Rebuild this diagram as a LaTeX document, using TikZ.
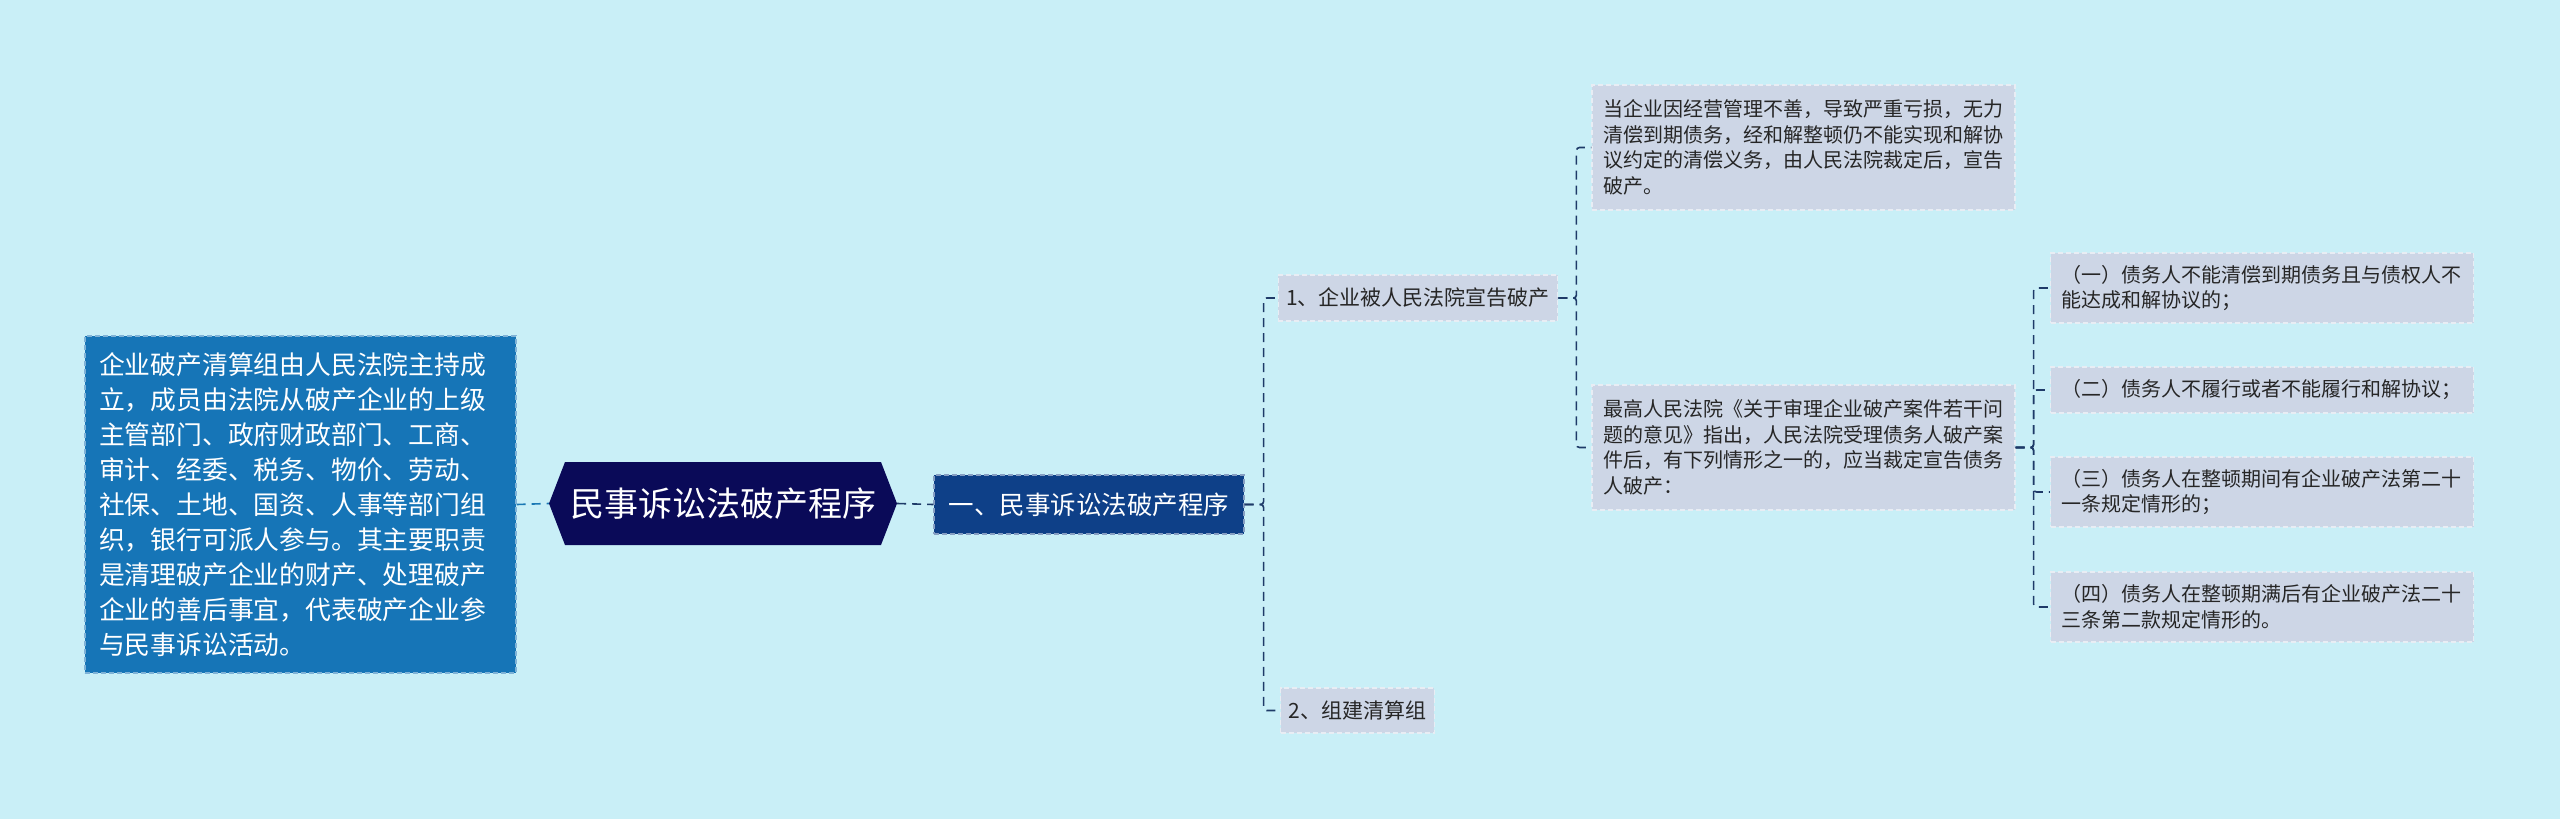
\documentclass[tikz,border=0pt]{standalone}
\usepackage{fontspec}
\setmainfont{Noto Sans CJK SC}

\definecolor{bgcol}{RGB}{201,239,247}
\definecolor{leafcol}{RGB}{205,214,230}
\definecolor{introcol}{RGB}{22,117,183}
\definecolor{rootcol}{RGB}{10,10,88}
\definecolor{proccol}{RGB}{14,64,136}
\definecolor{linecol}{RGB}{30,58,104}
\definecolor{bluelink}{RGB}{26,120,180}

\tikzset{
    box/.style={fill=leafcol, draw=leafcol!45!white, dash pattern=on 5pt off 3pt, line width=1.2pt,
        inner xsep=11pt, inner ysep=0pt, text=black!85},
    leaf/.style={box, font=\fontsize{20}{25.5}\selectfont, align=left, text width=401pt},
    item/.style={box, font=\fontsize{21}{25}\selectfont, inner xsep=8pt},
    link/.style={draw=linecol, line width=1.6pt, dash pattern=on 9pt off 6pt, rounded corners=3pt},
}

\begin{document}
\begin{tikzpicture}[x=1pt, y=-1pt]
        % page
        \useasboundingbox (0,0) rectangle (2560,819);
        \fill [bgcol] (0,0) rectangle (2560,819);
        % note on the left
        \node [fill=introcol, draw=introcol!55!white, dash pattern=on 5pt off 3pt, line width=1.4pt,
            minimum width=431pt, minimum height=337pt, inner xsep=14pt, text width=403pt, align=left,
            text=white, font=\fontsize{25.8}{35}\selectfont] (intro) at (300.5,504.5)
            {企业破产清算组由人民法院主持成\\立，成员由法院从破产企业的上级\\主管部门、政府财政部门、工商、\\审计、经委、税务、物价、劳动、\\社保、土地、国资、人事等部门组\\织，银行可派人参与。其主要职责\\是清理破产企业的财产、处理破产\\企业的善后事宜，代表破产企业参\\与民事诉讼活动。};
        % root
        \fill [rootcol] (549,503.5) -- (565,462) -- (881,462) -- (897,503.5) -- (881,545) -- (565,545) -- cycle;
        \node [minimum width=348pt, minimum height=83pt, inner sep=0pt, text=white,
            font=\fontsize{34}{40}\selectfont] (root) at (723,503.5) {民事诉讼法破产程序};
        % first level
        \node [fill=proccol, draw=proccol!50!white, dash pattern=on 5pt off 3pt, line width=1.2pt,
            minimum width=310pt, minimum height=59pt, inner sep=0pt, text=white,
            font=\fontsize{25.5}{30}\selectfont] (proc) at (1089,504.5) {一、民事诉讼法破产程序};
        % second level
        \node [item, minimum width=274pt, minimum height=46pt] (decl) at (1418,298) {1、企业被人民法院宣告破产};
        \node [item, minimum width=153pt, minimum height=45pt] (team) at (1357.5,710.5) {2、组建清算组};
        % third level
        \node [leaf, minimum height=125pt] (cond) at (1803.5,147.5)
            {当企业因经营管理不善，导致严重亏损，无力\\清偿到期债务，经和解整顿仍不能实现和解协\\议约定的清偿义务，由人民法院裁定后，宣告\\破产。};
        \node [leaf, minimum height=125pt] (rule) at (1803.5,447.5)
            {最高人民法院《关于审理企业破产案件若干问\\题的意见》指出，人民法院受理债务人破产案\\件后，有下列情形之一的，应当裁定宣告债务\\人破产：};
        % cases
        \node [leaf, minimum height=70pt] (caseA) at (2262,288) {（一）债务人不能清偿到期债务且与债权人不\\能达成和解协议的；};
        \node [leaf, minimum height=46pt] (caseB) at (2262,390) {（二）债务人不履行或者不能履行和解协议；};
        \node [leaf, minimum height=70pt] (caseC) at (2262,492) {（三）债务人在整顿期间有企业破产法第二十\\一条规定情形的；};
        \node [leaf, minimum height=70pt] (caseD) at (2262,607) {（四）债务人在整顿期满后有企业破产法二十\\三条第二款规定情形的。};
        % links
        \draw [link, draw=bluelink] (intro.east) -- (root.west);
        \draw [link] (root.east) -- (proc.west);
        \foreach \c in {decl,team}
            \draw [link] (proc.east) -- ++(19,0) |- (\c.west);
        \foreach \c in {cond,rule}
            \draw [link] (decl.east) -- ++(18,0) |- (\c.west);
        \foreach \c in {caseA,caseB,caseC,caseD}
            \draw [link] (rule.east) -- ++(18,0) |- (\c.west);
    \end{tikzpicture}
\end{document}
